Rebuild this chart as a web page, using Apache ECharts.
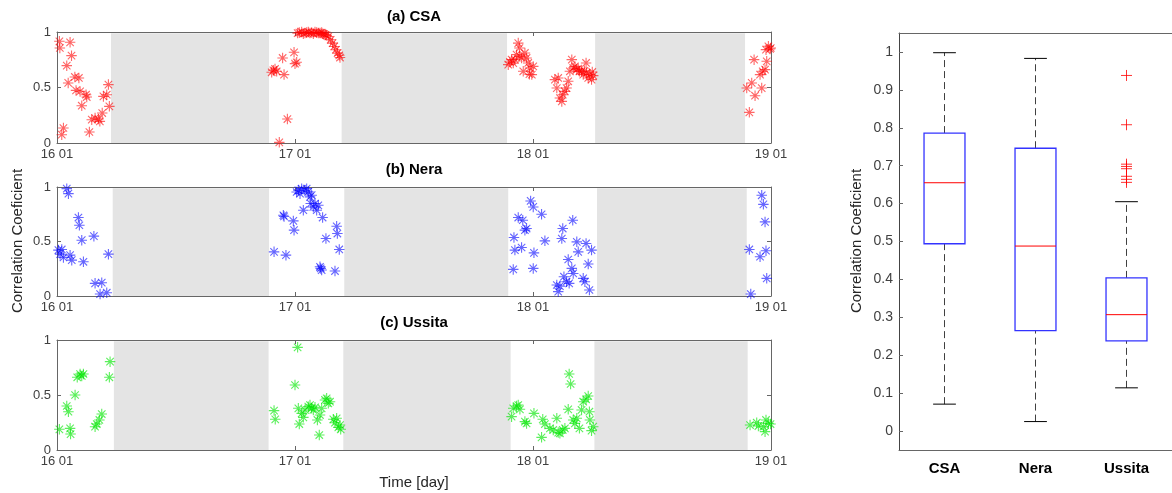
<!DOCTYPE html>
<html>
<head>
<meta charset="utf-8">
<script src="https://cdn.jsdelivr.net/npm/echarts@6/dist/echarts.min.js"></script>
<style>html,body{margin:0;padding:0;background:#fff}#c{width:1172px;height:493px}</style>
</head>
<body>
<div id="c"></div>
<script>
// ---------- data ----------
const dayLabels = ['16 01', '17 01', '18 01', '19 01'];
const csaData = [
  [0.010,0.916],[0.012,0.856],[0.055,0.907],[0.061,0.787],[0.041,0.697],[0.075,0.595],[0.092,0.586],[0.047,0.541],
  [0.080,0.474],[0.097,0.465],[0.122,0.435],[0.125,0.414],[0.104,0.336],[0.027,0.135],[0.020,0.075],[0.136,0.099],
  [0.146,0.210],[0.160,0.225],[0.174,0.216],[0.180,0.195],[0.190,0.270],[0.195,0.420],[0.209,0.435],[0.216,0.526],[0.220,0.330],
  [0.902,0.637],[0.909,0.655],[0.916,0.667],[0.923,0.646],[0.934,0.006],[0.948,0.766],[0.954,0.616],[0.968,0.216],
  [0.996,0.817],[1.000,0.715],[1.007,0.727],[1.011,0.990],[1.018,0.995],[1.028,1.000],[1.035,0.985],[1.042,0.990],
  [1.049,0.995],[1.056,1.000],[1.063,0.990],[1.070,0.995],[1.077,0.985],[1.084,1.000],[1.091,0.995],[1.098,0.990],
  [1.105,0.990],[1.112,0.995],[1.117,0.985],[1.122,0.980],[1.128,0.975],[1.133,0.970],[1.140,0.960],[1.150,0.930],
  [1.158,0.900],[1.165,0.870],[1.172,0.840],[1.179,0.810],[1.186,0.790],[1.189,0.770],
  [1.896,0.706],[1.903,0.730],[1.910,0.751],[1.917,0.720],[1.924,0.751],[1.931,0.796],[1.938,0.900],[1.943,0.856],
  [1.945,0.780],[1.952,0.766],[1.959,0.646],[1.966,0.811],[1.973,0.766],[1.980,0.721],[1.985,0.620],[1.987,0.676],
  [1.995,0.616],[2.001,0.690],[2.092,0.571],[2.100,0.495],[2.106,0.586],[2.113,0.405],[2.121,0.375],[2.125,0.435],
  [2.134,0.465],[2.141,0.495],[2.148,0.556],[2.155,0.646],[2.163,0.751],[2.169,0.676],[2.176,0.690],[2.184,0.661],
  [2.190,0.670],[2.195,0.646],[2.204,0.646],[2.211,0.616],[2.216,0.650],[2.223,0.721],[2.225,0.631],[2.232,0.586],
  [2.239,0.616],[2.246,0.571],[2.249,0.640],[2.253,0.607],
  [2.898,0.495],[2.909,0.276],[2.919,0.541],[2.929,0.751],[2.933,0.426],[2.954,0.616],[2.961,0.495],[2.965,0.646],
  [2.975,0.661],[2.979,0.841],[2.982,0.736],[2.989,0.871],[2.996,0.847],[2.999,0.856]
];
const neraData = [
  [0.006,0.421],[0.013,0.384],[0.020,0.427],[0.027,0.354],[0.041,0.985],[0.048,0.939],[0.055,0.375],[0.062,0.329],
  [0.090,0.720],[0.094,0.649],[0.104,0.512],[0.111,0.314],[0.155,0.549],[0.160,0.116],[0.181,0.018],[0.188,0.122],
  [0.209,0.030],[0.216,0.384],
  [0.912,0.405],[0.951,0.741],[0.954,0.730],[0.962,0.375],[0.993,0.689],[0.996,0.604],[1.007,0.954],[1.014,0.970],
  [1.021,0.939],[1.028,0.985],[1.035,0.787],[1.042,0.970],[1.049,0.985],[1.056,0.955],[1.063,0.909],[1.066,0.848],
  [1.070,0.925],[1.077,0.817],[1.084,0.848],[1.091,0.787],[1.098,0.832],[1.105,0.268],[1.108,0.253],[1.112,0.238],
  [1.116,0.720],[1.130,0.527],[1.168,0.229],[1.175,0.640],[1.178,0.573],[1.186,0.427],
  [1.917,0.244],[1.920,0.537],[1.924,0.421],[1.938,0.720],[1.952,0.445],[1.957,0.695],[1.966,0.604],[1.973,0.619],
  [1.990,0.872],[2.001,0.817],[2.004,0.396],[2.001,0.253],[2.036,0.750],[2.050,0.506],[2.100,0.101],[2.106,0.040],
  [2.113,0.091],[2.121,0.527],[2.125,0.619],[2.130,0.177],[2.141,0.131],[2.148,0.335],[2.152,0.116],[2.163,0.253],
  [2.167,0.695],[2.169,0.207],[2.184,0.497],[2.190,0.405],[2.211,0.162],[2.218,0.131],[2.223,0.482],[2.232,0.293],
  [2.237,0.055],[2.246,0.421],
  [2.909,0.427],[2.915,0.018],[2.954,0.360],[2.961,0.924],[2.968,0.841],[2.975,0.680],[2.979,0.415],[2.982,0.162]
];
const ussitaData = [
  [0.010,0.188],[0.041,0.400],[0.048,0.348],[0.055,0.197],[0.057,0.145],[0.076,0.500],[0.085,0.661],[0.097,0.691],
  [0.104,0.673],[0.111,0.691],[0.160,0.212],[0.167,0.236],[0.178,0.273],[0.188,0.327],[0.220,0.661],[0.223,0.803],
  [0.912,0.358],[0.917,0.279],[1.000,0.591],[1.011,0.933],[1.014,0.379],[1.018,0.236],[1.028,0.333],[1.035,0.297],
  [1.042,0.364],[1.056,0.394],[1.063,0.409],[1.070,0.379],[1.077,0.364],[1.084,0.388],[1.094,0.273],[1.102,0.136],
  [1.105,0.318],[1.112,0.379],[1.126,0.455],[1.133,0.470],[1.140,0.424],[1.147,0.439],[1.161,0.279],[1.168,0.248],
  [1.175,0.288],[1.182,0.206],[1.189,0.227],[1.192,0.188],
  [1.910,0.303],[1.917,0.379],[1.931,0.400],[1.938,0.409],[1.945,0.370],[1.966,0.258],[1.973,0.242],[2.004,0.333],
  [2.036,0.115],[2.041,0.279],[2.050,0.236],[2.071,0.197],[2.085,0.182],[2.100,0.288],[2.106,0.158],[2.113,0.152],
  [2.125,0.182],[2.134,0.197],[2.148,0.370],[2.152,0.691],[2.158,0.600],[2.169,0.273],[2.176,0.242],[2.184,0.288],
  [2.195,0.197],[2.204,0.364],[2.211,0.439],[2.223,0.461],[2.232,0.491],[2.237,0.348],[2.239,0.273],[2.246,0.176],
  [2.253,0.212],
  [2.912,0.227],[2.940,0.248],[2.947,0.218],[2.968,0.212],[2.975,0.167],[2.979,0.273],[2.989,0.242],[2.998,0.236]
];
// gap (shaded) intervals in days from 16 01
const gapsCSA = [[0.227,0.891],[1.196,1.891],[2.261,2.891]];
const gapsNera = [[0.234,0.891],[1.207,1.896],[2.269,2.898]];
const gapsUssita = [[0.239,0.889],[1.203,1.906],[2.258,2.902]];
// box plot statistics
const boxCats = ['CSA', 'Nera', 'Ussita'];
const boxLow = [0.071, 0.025, 0.114];
const boxQ1 = [0.494, 0.265, 0.238];
const boxMed = [0.655, 0.488, 0.307];
const boxQ3 = [0.786, 0.746, 0.404];
const boxHigh = [0.998, 0.983, 0.605];
const ussitaOutliers = [0.938, 0.808, 0.704, 0.698, 0.692, 0.672, 0.664, 0.656];
const boxTicks = [0, 0.1, 0.2, 0.3, 0.4, 0.5, 0.6, 0.7, 0.8, 0.9, 1];

// ---------- chart ----------
const FONT = '"Liberation Sans", Arial, Helvetica, sans-serif';
const AX = '#666';
const LBL = '#404040';
const chart = echarts.init(document.getElementById('c'), null, {renderer: 'canvas'});

const grids = [
  {left: 57, top: 32, width: 714, height: 111},
  {left: 57, top: 187, width: 714, height: 109},
  {left: 57, top: 340, width: 714, height: 110},
  {left: 899, top: 33, width: 281, height: 417}
];

const xAxes = [], yAxes = [];
for (let g = 0; g < 3; g++) {
  xAxes.push({
    gridIndex: g, type: 'value', min: 0, max: 3, interval: 1, position: 'bottom',
    axisLine: {onZero: false, lineStyle: {color: AX, width: 1}},
    axisTick: {inside: true, length: 4, lineStyle: {color: AX}},
    axisLabel: {formatter: v => dayLabels[Math.round(v)], color: LBL, fontSize: 13, fontFamily: FONT, margin: 5},
    splitLine: {show: false}
  });
  xAxes.push({
    gridIndex: g, type: 'value', min: 0, max: 3, interval: 1, position: 'top',
    axisLine: {onZero: false, lineStyle: {color: AX, width: 1}},
    axisTick: {inside: true, length: 4, lineStyle: {color: AX}},
    axisLabel: {show: false}, splitLine: {show: false}
  });
  yAxes.push({
    gridIndex: g, type: 'value', min: 0, max: 1, interval: 0.5, position: 'left',
    axisLine: {show: true, onZero: false, lineStyle: {color: AX, width: 1}},
    axisTick: {show: true, inside: true, length: 4, lineStyle: {color: AX}},
    axisLabel: {color: LBL, fontSize: 13, fontFamily: FONT, margin: 6},
    splitLine: {show: false}
  });
  yAxes.push({
    gridIndex: g, type: 'value', min: 0, max: 1, interval: 0.5, position: 'right',
    axisLine: {show: true, onZero: false, lineStyle: {color: AX, width: 1}},
    axisTick: {show: true, inside: true, length: 4, lineStyle: {color: AX}},
    axisLabel: {show: false}, splitLine: {show: false}
  });
}
xAxes.push({
  gridIndex: 3, type: 'category', data: boxCats, position: 'bottom', boundaryGap: true,
  axisLine: {onZero: false, lineStyle: {color: AX, width: 1}},
  axisTick: {inside: true, length: 4, alignWithLabel: true, lineStyle: {color: AX}},
  axisLabel: {color: '#000', fontSize: 15, fontWeight: 'bold', fontFamily: FONT, margin: 11},
  splitLine: {show: false}
});
xAxes.push({
  gridIndex: 3, type: 'category', data: boxCats, position: 'top', boundaryGap: true,
  axisLine: {onZero: false, lineStyle: {color: AX, width: 1}},
  axisTick: {inside: true, length: 4, alignWithLabel: true, lineStyle: {color: AX}},
  axisLabel: {show: false}, splitLine: {show: false}
});
yAxes.push({
  gridIndex: 3, type: 'value', min: -0.05, max: 1.05, position: 'left',
  axisLine: {show: true, onZero: false, lineStyle: {color: '#444', width: 1}},
  axisTick: {show: true, inside: true, length: 4, customValues: boxTicks, lineStyle: {color: AX}},
  axisLabel: {customValues: boxTicks, formatter: v => String(v), color: LBL, fontSize: 14, fontFamily: FONT, margin: 6},
  splitLine: {show: false}
});

const starPath = 'path://M5,0L5,10M0,5L10,5M1.46,1.46L8.54,8.54M1.46,8.54L8.54,1.46';
const plusPath = 'path://M0,5L10,5M5,0L5,10';

function panelSeries(idx, data, color, gaps) {
  return {
    type: 'scatter', xAxisIndex: idx * 2, yAxisIndex: idx * 2, data: data,
    symbol: starPath, symbolSize: 10.5, clip: false, silent: true,
    itemStyle: {color: 'transparent', borderColor: color, borderWidth: 1.1},
    markArea: {
      silent: true,
      itemStyle: {color: '#e4e4e4', borderWidth: 0},
      data: gaps.map(g => [{xAxis: g[0], yAxis: 0}, {xAxis: g[1], yAxis: 0.988}])
    },
    z: 3
  };
}

const boxData = boxCats.map((c, i) => [i, boxLow[i], boxQ1[i], boxMed[i], boxQ3[i], boxHigh[i]]);

const option = {
  animation: false,
  backgroundColor: '#fff',
  grid: grids,
  xAxis: xAxes,
  yAxis: yAxes,
  graphic: [
    {type: 'text', x: 414, y: 17, style: {text: '(a) CSA', font: 'bold 15px ' + FONT, fill: '#000', textAlign: 'center', textVerticalAlign: 'middle'}},
    {type: 'text', x: 414, y: 170, style: {text: '(b) Nera', font: 'bold 15px ' + FONT, fill: '#000', textAlign: 'center', textVerticalAlign: 'middle'}},
    {type: 'text', x: 414, y: 323, style: {text: '(c) Ussita', font: 'bold 15px ' + FONT, fill: '#000', textAlign: 'center', textVerticalAlign: 'middle'}},
    {type: 'text', x: 414, y: 483, style: {text: 'Time [day]', font: '15px ' + FONT, fill: '#262626', textAlign: 'center', textVerticalAlign: 'middle'}},
    {type: 'text', x: 18, y: 241, rotation: Math.PI / 2, style: {text: 'Correlation Coeficient', font: '15px ' + FONT, fill: '#262626', textAlign: 'center', textVerticalAlign: 'middle'}},
    {type: 'text', x: 857, y: 241, rotation: Math.PI / 2, style: {text: 'Correlation Coeficient', font: '15px ' + FONT, fill: '#262626', textAlign: 'center', textVerticalAlign: 'middle'}}
  ],
  series: [
    panelSeries(0, csaData, 'rgba(255,0,0,0.75)', gapsCSA),
    panelSeries(1, neraData, 'rgba(0,0,255,0.75)', gapsNera),
    panelSeries(2, ussitaData, 'rgba(0,230,0,0.8)', gapsUssita),
    {
      type: 'custom', xAxisIndex: 6, yAxisIndex: 6, data: boxData, silent: true,
      encode: {x: 0, y: [1, 2, 3, 4, 5]},
      renderItem: function (params, api) {
        const c = api.value(0);
        const lo = api.coord([c, api.value(1)]);
        const q1 = api.coord([c, api.value(2)]);
        const md = api.coord([c, api.value(3)]);
        const q3 = api.coord([c, api.value(4)]);
        const hi = api.coord([c, api.value(5)]);
        const band = api.size([1, 0])[0];
        const bw = band * 0.45, cw = band * 0.25;
        const x = lo[0];
        const dash = {stroke: '#404040', lineWidth: 1, lineDash: [7, 4]};
        return {
          type: 'group',
          children: [
            {type: 'line', shape: {x1: x, y1: q3[1], x2: x, y2: hi[1]}, style: dash},
            {type: 'line', shape: {x1: x, y1: lo[1], x2: x, y2: q1[1]}, style: dash},
            {type: 'line', shape: {x1: x - cw / 2, y1: hi[1], x2: x + cw / 2, y2: hi[1]}, style: {stroke: '#000', lineWidth: 1}},
            {type: 'line', shape: {x1: x - cw / 2, y1: lo[1], x2: x + cw / 2, y2: lo[1]}, style: {stroke: '#000', lineWidth: 1}},
            {type: 'rect', shape: {x: x - bw / 2, y: q3[1], width: bw, height: q1[1] - q3[1]}, style: {fill: 'none', stroke: '#3333ff', lineWidth: 1.3}},
            {type: 'line', shape: {x1: x - bw / 2, y1: md[1], x2: x + bw / 2, y2: md[1]}, style: {stroke: '#ff0000', lineWidth: 1}}
          ]
        };
      }
    },
    {
      type: 'scatter', xAxisIndex: 6, yAxisIndex: 6, silent: true,
      data: ussitaOutliers.map(v => [2, v]),
      symbol: plusPath, symbolSize: 11,
      itemStyle: {color: 'transparent', borderColor: '#ff0000', borderWidth: 1}
    }
  ]
};
chart.setOption(option);
</script>
</body>
</html>
